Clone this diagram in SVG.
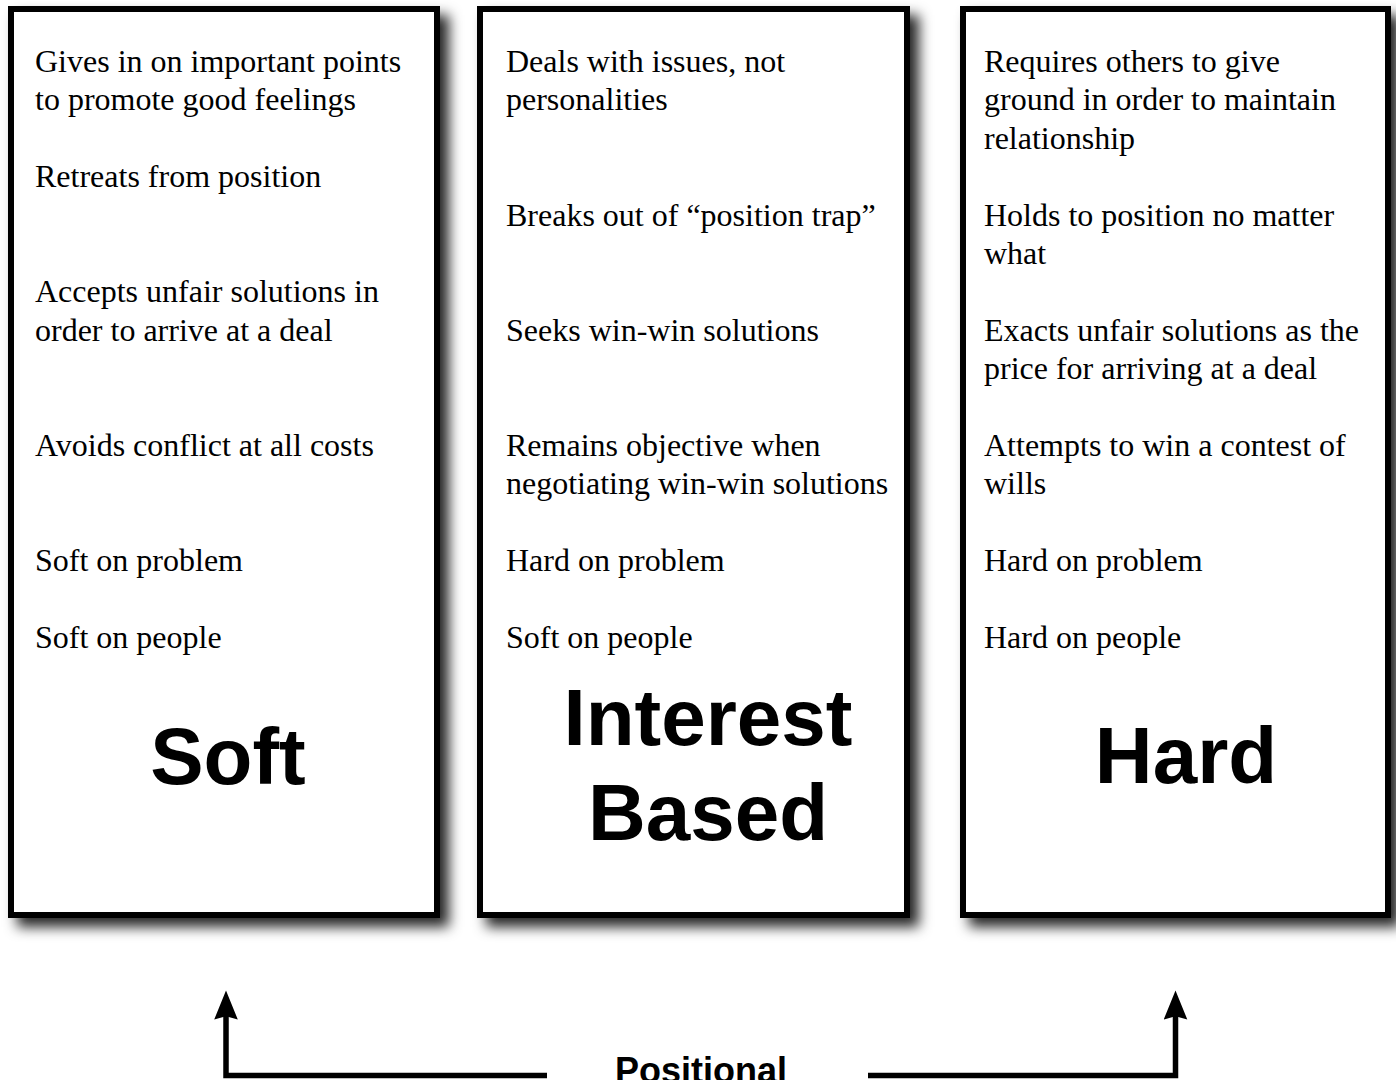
<svg xmlns="http://www.w3.org/2000/svg" width="1396" height="1080" viewBox="0 0 1396 1080">
<style>
.box{fill:#fff;stroke:#000;stroke-width:6;filter:url(#shadow)}
.t{font-family:"Liberation Serif","Times New Roman",serif;font-size:32px;fill:#000}
.title{font-family:"Liberation Sans",Arial,Helvetica,sans-serif;font-weight:bold;font-size:80px;fill:#000;text-anchor:middle}
.lbl{font-family:"Liberation Sans",Arial,Helvetica,sans-serif;font-weight:bold;font-size:36px;fill:#000;text-anchor:middle}
.conn{fill:none;stroke:#000;stroke-width:5.5;marker-end:url(#arrow)}
</style>
<defs>
<filter id="shadow" x="-10%" y="-10%" width="130%" height="130%">
<feDropShadow dx="9" dy="9" stdDeviation="6.5" flood-color="#000" flood-opacity="0.85"/>
</filter>
<marker id="arrow" markerUnits="userSpaceOnUse" markerWidth="30" markerHeight="24" viewBox="0 0 28 22" refX="7" refY="11" orient="auto">
<path d="M0,0 L27,11 L0,22 L3,11 z" fill="#000"/>
</marker>
</defs>
<rect width="1396" height="1080" fill="#fff"/>

<g id="soft">
<rect class="box" x="11" y="9" width="426" height="906"/>
<text class="t" x="35" y="72">Gives in on important points</text>
<text class="t" x="35" y="110.4">to promote good feelings</text>
<text class="t" x="35" y="187.2">Retreats from position</text>
<text class="t" x="35" y="302.4">Accepts unfair solutions in</text>
<text class="t" x="35" y="340.8">order to arrive at a deal</text>
<text class="t" x="35" y="456">Avoids conflict at all costs</text>
<text class="t" x="35" y="571.2">Soft on problem</text>
<text class="t" x="35" y="648">Soft on people</text>
<text class="title" x="228" y="784">Soft</text>
</g>

<g id="interest">
<rect class="box" x="480" y="9" width="427" height="906"/>
<text class="t" x="506" y="72">Deals with issues, not</text>
<text class="t" x="506" y="110.4">personalities</text>
<text class="t" x="506" y="225.6">Breaks out of “position trap”</text>
<text class="t" x="506" y="340.8">Seeks win-win solutions</text>
<text class="t" x="506" y="456">Remains objective when</text>
<text class="t" x="506" y="494.4">negotiating win-win solutions</text>
<text class="t" x="506" y="571.2">Hard on problem</text>
<text class="t" x="506" y="648">Soft on people</text>
<text class="title" x="708" y="745">Interest</text>
<text class="title" x="708" y="840">Based</text>
</g>

<g id="hard">
<rect class="box" x="963" y="9" width="425" height="906"/>
<text class="t" x="984" y="72">Requires others to give</text>
<text class="t" x="984" y="110.4">ground in order to maintain</text>
<text class="t" x="984" y="148.8">relationship</text>
<text class="t" x="984" y="225.6">Holds to position no matter</text>
<text class="t" x="984" y="264">what</text>
<text class="t" x="984" y="340.8">Exacts unfair solutions as the</text>
<text class="t" x="984" y="379.2">price for arriving at a deal</text>
<text class="t" x="984" y="456">Attempts to win a contest of</text>
<text class="t" x="984" y="494.4">wills</text>
<text class="t" x="984" y="571.2">Hard on problem</text>
<text class="t" x="984" y="648">Hard on people</text>
<text class="title" x="1186" y="783">Hard</text>
</g>

<g id="connectors">
<path class="conn" d="M547,1075.5 H226 V1012"/>
<path class="conn" d="M868,1075.5 H1175.5 V1012"/>
</g>

<g id="positional">
<text class="lbl" x="701" y="1083">Positional</text>
</g>
</svg>
